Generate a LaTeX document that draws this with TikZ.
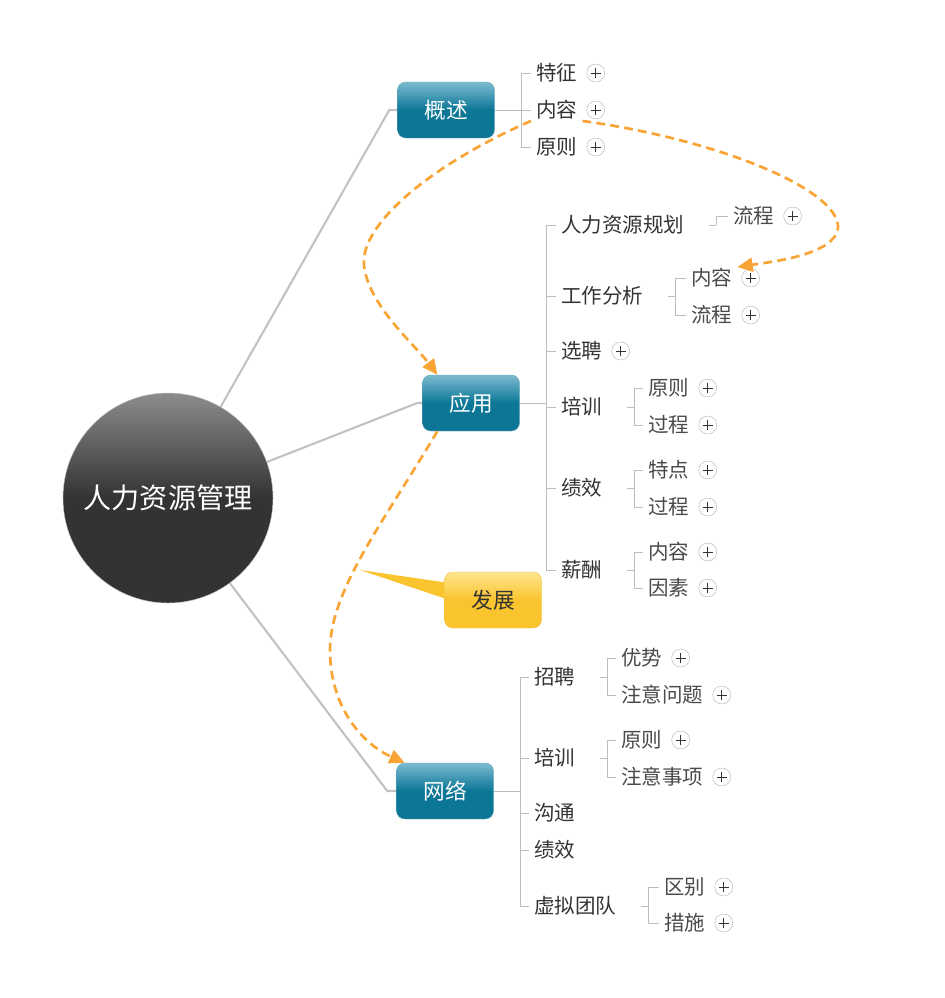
\documentclass[tikz,border=0pt]{standalone}
\usepackage{fontspec}
\setmainfont{Noto Sans CJK SC}
\usetikzlibrary{positioning,arrows.meta,backgrounds}
\definecolor{RootTop}{HTML}{8C8C8C}
\definecolor{RootBot}{HTML}{333333}
\definecolor{TopicTop}{HTML}{7CBBD0}
\definecolor{TopicBot}{HTML}{0B7696}
\definecolor{TopicLine}{HTML}{6AA9BD}
\definecolor{NoteTop}{HTML}{FFE58E}
\definecolor{NoteBot}{HTML}{F9C42E}
\definecolor{NoteLine}{HTML}{F3C64A}
\definecolor{TrunkGray}{HTML}{C2C2C2}
\definecolor{BranchGray}{HTML}{BDBDBD}
\definecolor{LinkOrange}{HTML}{F8A536}
\definecolor{LeafText}{HTML}{333333}
\definecolor{SubText}{HTML}{4A4A4A}

\begin{document}
\begin{tikzpicture}[x=0.03cm,y=-0.03cm,
  every node/.style={font=\fontsize{17.5}{20}\selectfont},
  root/.style={circle,draw=gray!50,minimum size=6.3cm,top color=RootTop,bottom color=RootBot,middle color=RootBot,text=white,font=\fontsize{24}{28}\selectfont},
  topic/.style={rounded corners=7pt,draw=TopicLine,minimum width=2.91cm,minimum height=1.68cm,top color=TopicTop,bottom color=TopicBot,middle color=TopicBot,text=white,font=\fontsize{18.5}{22}\selectfont},
  note/.style={rounded corners=7pt,draw=NoteLine,minimum width=2.91cm,minimum height=1.68cm,top color=NoteTop,bottom color=NoteBot,middle color=NoteBot,text=LeafText,font=\fontsize{18.5}{22}\selectfont},
  leaf/.style={anchor=west,inner xsep=0.15cm,inner ysep=1pt,text=LeafText},
  subleaf/.style={leaf,text=SubText},
  plus/.style={circle,draw=gray!55,fill=white,minimum size=0.54cm,inner sep=0pt,
    path picture={\draw[line width=0.7pt,black!80]
      ([xshift=-0.15cm]path picture bounding box.center) -- ([xshift=0.15cm]path picture bounding box.center)
      ([yshift=-0.15cm]path picture bounding box.center) -- ([yshift=0.15cm]path picture bounding box.center);}},
  trunk/.style={draw=TrunkGray,line width=1.8pt},
  branch/.style={draw=BranchGray,line width=0.6pt},
  link/.style={draw=LinkOrange,line width=2.3pt,dash pattern=on 7.5pt off 4.5pt,-{Triangle[length=13pt,width=12pt]}}
]
\useasboundingbox (0,0) rectangle (945,998);

% centre and main topics
\node[root] (hrm) at (168,498) {人力资源管理};
\node[topic] (gaishu) at (446,110) {概述};
\node[topic] (yingyong) at (471,403) {应用};
\node[note] (fazhan) at (493,600) {发展};
\node[topic] (wangluo) at (445,791) {网络};
\coordinate (fz-tip) at (360,570);

% 概述
\node[leaf] (tz) at (531,73) {特征};
\node[leaf] (nr1) at (531,110) {内容};
\node[leaf] (yz1) at (531,147) {原则};
\node[plus,right=0.12cm of tz] (p-tz) {};
\node[plus,right=0.12cm of nr1] (p-nr1) {};
\node[plus,right=0.12cm of yz1] (p-yz1) {};

% 应用
\node[leaf] (rlgh) at (556,225) {人力资源规划};
\node[leaf] (gzfx) at (556,296) {工作分析};
\node[leaf] (xp) at (556,351) {选聘};
\node[leaf] (px1) at (556,407) {培训};
\node[leaf] (jx1) at (556,488) {绩效};
\node[leaf] (xc) at (556,570) {薪酬};
\node[plus,right=0.12cm of xp] (p-xp) {};
\node[subleaf] (lc1) at (728,216) {流程};
\node[subleaf] (nr2) at (686,278) {内容};
\node[subleaf] (lc2) at (686,315) {流程};
\node[subleaf] (yz2) at (643,388) {原则};
\node[subleaf] (gc1) at (643,425) {过程};
\node[subleaf] (td) at (643,470) {特点};
\node[subleaf] (gc2) at (643,507) {过程};
\node[subleaf] (nr3) at (643,552) {内容};
\node[subleaf] (ys1) at (643,588) {因素};
\node[plus,right=0.12cm of lc1] (p-lc1) {};
\node[plus,right=0.12cm of nr2] (p-nr2) {};
\node[plus,right=0.12cm of lc2] (p-lc2) {};
\node[plus,right=0.12cm of yz2] (p-yz2) {};
\node[plus,right=0.12cm of gc1] (p-gc1) {};
\node[plus,right=0.12cm of td] (p-td) {};
\node[plus,right=0.12cm of gc2] (p-gc2) {};
\node[plus,right=0.12cm of nr3] (p-nr3) {};
\node[plus,right=0.12cm of ys1] (p-ys1) {};

% 网络
\node[leaf] (zp) at (529,677) {招聘};
\node[leaf] (px2) at (529,758) {培训};
\node[leaf] (gt) at (529,813) {沟通};
\node[leaf] (jx2) at (529,850) {绩效};
\node[leaf] (xntd) at (529,906) {虚拟团队};
\node[subleaf] (ysh) at (616,658) {优势};
\node[subleaf] (zywt) at (616,695) {注意问题};
\node[subleaf] (yz3) at (616,740) {原则};
\node[subleaf] (zysx) at (616,777) {注意事项};
\node[subleaf] (qb) at (659,887) {区别};
\node[subleaf] (cs) at (659,923) {措施};
\node[plus,right=0.12cm of ysh] (p-ysh) {};
\node[plus,right=0.12cm of zywt] (p-zywt) {};
\node[plus,right=0.12cm of yz3] (p-yz3) {};
\node[plus,right=0.12cm of zysx] (p-zysx) {};
\node[plus,right=0.12cm of qb] (p-qb) {};
\node[plus,right=0.12cm of cs] (p-cs) {};

\begin{scope}[on background layer]
% trunks
\draw[trunk] (hrm.60) -- ([xshift=-0.24cm]gaishu.west) -- (gaishu.west);
\draw[trunk] (hrm.20) -- ([xshift=-0.15cm]yingyong.west) -- (yingyong.west);
\draw[trunk] (hrm.-54) -- ([xshift=-0.27cm]wangluo.west) -- (wangluo.west);
\fill[NoteBot] (fz-tip) -- (fazhan.160) -- (fazhan.178) -- cycle;
% 概述 branches
\draw[branch] (gaishu.east) -- ++(27,0) coordinate (b-gs);
\draw[branch] (b-gs) |- (tz.west);
\draw[branch] (b-gs) |- (nr1.west);
\draw[branch] (b-gs) |- (yz1.west);
% 应用 branches
\draw[branch] (yingyong.east) -- ++(27,0) coordinate (b-yy);
\draw[branch] (b-yy) |- (rlgh.west);
\draw[branch] (b-yy) |- (gzfx.west);
\draw[branch] (b-yy) |- (xp.west);
\draw[branch] (b-yy) |- (px1.west);
\draw[branch] (b-yy) |- (jx1.west);
\draw[branch] (b-yy) |- (xc.west);
\draw[branch] (rlgh.east) ++(20,0) -- ++(7,0) coordinate (b-rlgh);
\draw[branch] (b-rlgh) |- (lc1.west);
\draw[branch] (gzfx.east) ++(20,0) -- ++(7,0) coordinate (b-gzfx);
\draw[branch] (b-gzfx) |- (nr2.west);
\draw[branch] (b-gzfx) |- (lc2.west);
\draw[branch] (px1.east) ++(20,0) -- ++(7,0) coordinate (b-px1);
\draw[branch] (b-px1) |- (yz2.west);
\draw[branch] (b-px1) |- (gc1.west);
\draw[branch] (jx1.east) ++(20,0) -- ++(7,0) coordinate (b-jx1);
\draw[branch] (b-jx1) |- (td.west);
\draw[branch] (b-jx1) |- (gc2.west);
\draw[branch] (xc.east) ++(20,0) -- ++(7,0) coordinate (b-xc);
\draw[branch] (b-xc) |- (nr3.west);
\draw[branch] (b-xc) |- (ys1.west);
% 网络 branches
\draw[branch] (wangluo.east) -- ++(27,0) coordinate (b-wl);
\draw[branch] (b-wl) |- (zp.west);
\draw[branch] (b-wl) |- (px2.west);
\draw[branch] (b-wl) |- (gt.west);
\draw[branch] (b-wl) |- (jx2.west);
\draw[branch] (b-wl) |- (xntd.west);
\draw[branch] (zp.east) ++(20,0) -- ++(7,0) coordinate (b-zp);
\draw[branch] (b-zp) |- (ysh.west);
\draw[branch] (b-zp) |- (zywt.west);
\draw[branch] (px2.east) ++(20,0) -- ++(7,0) coordinate (b-px2);
\draw[branch] (b-px2) |- (yz3.west);
\draw[branch] (b-px2) |- (zysx.west);
\draw[branch] (xntd.east) ++(20,0) -- ++(7,0) coordinate (b-xntd);
\draw[branch] (b-xntd) |- (qb.west);
\draw[branch] (b-xntd) |- (cs.west);
\end{scope}

% dashed relations
\draw[link] (nr1.south east) .. controls (720,140) and (840,190) .. (838,228) .. controls (835,255) and (770,262) .. (nr2.north east);
\draw[link] (nr1.south west) .. controls (430,165) and (360,225) .. (364,265) .. controls (368,305) and (415,345) .. (yingyong.140);
\draw[link] (yingyong.-140) .. controls (385,520) and (330,590) .. (330,650) .. controls (330,710) and (365,745) .. (wangluo.145);
\end{tikzpicture}
\end{document}
